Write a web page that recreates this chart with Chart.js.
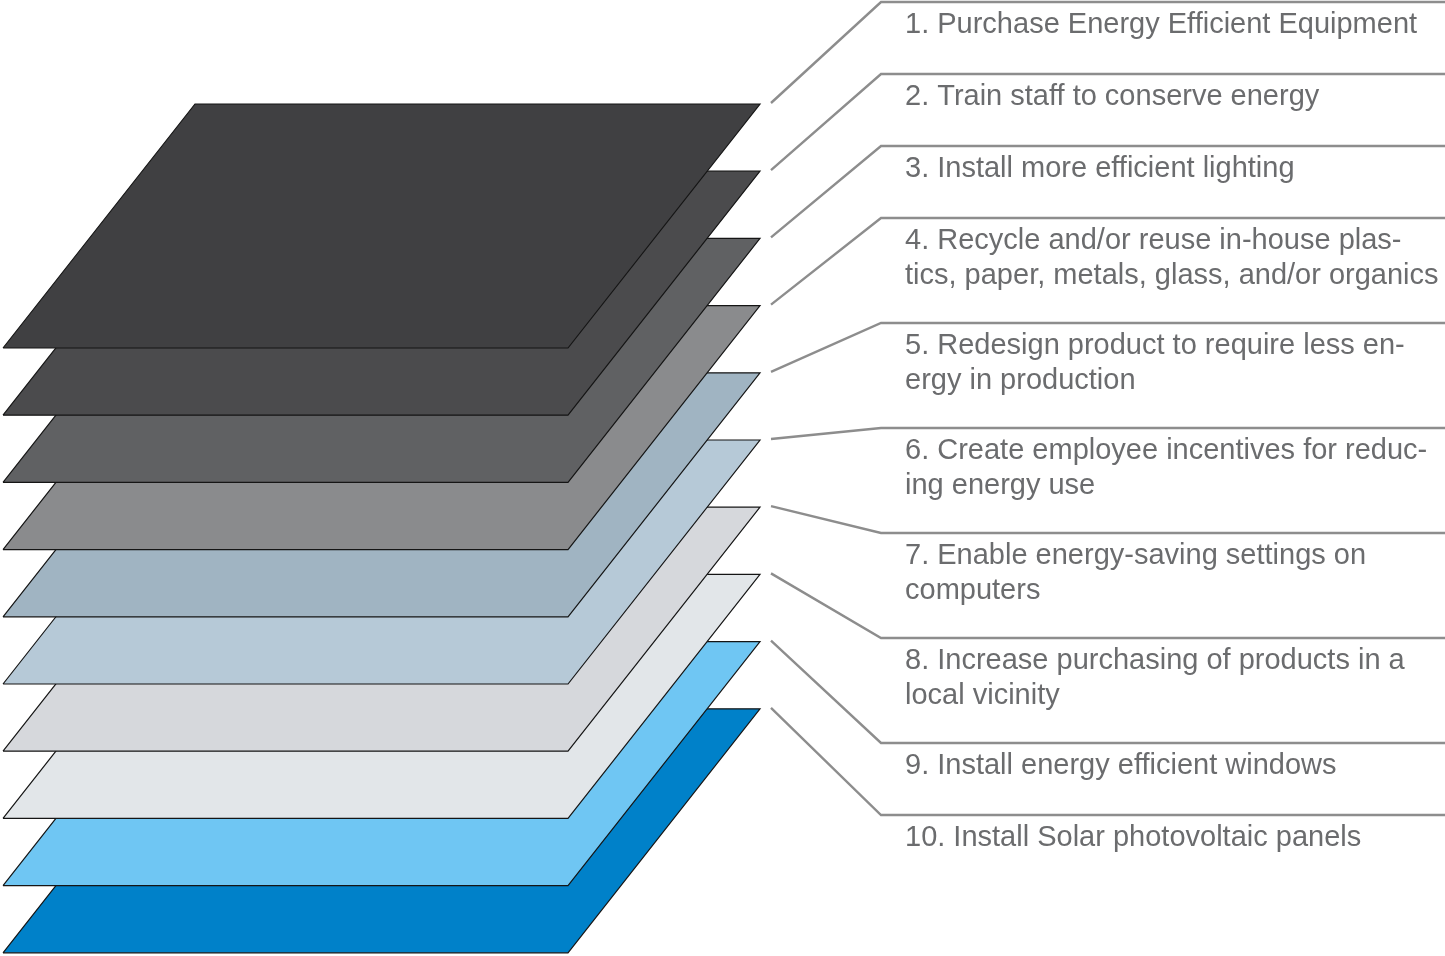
<!DOCTYPE html>
<html>
<head>
<meta charset="utf-8">
<script src="https://cdn.jsdelivr.net/npm/chart.js@4"></script>
<style>
  html, body { margin: 0; padding: 0; background: #fff; }
  canvas { display: block; }
</style>
</head>
<body>
<canvas id="layers" width="1445" height="956"></canvas>
<script>
// steps, top layer first
const steps = [
  ['1. Purchase Energy Efficient Equipment'],
  ['2. Train staff to conserve energy'],
  ['3. Install more efficient lighting'],
  ['4. Recycle and/or reuse in-house plas-', 'tics, paper, metals, glass, and/or organics'],
  ['5. Redesign product to require less en-', 'ergy in production'],
  ['6. Create employee incentives for reduc-', 'ing energy use'],
  ['7. Enable energy-saving settings on', 'computers'],
  ['8. Increase purchasing of products in a', 'local vicinity'],
  ['9. Install energy efficient windows'],
  ['10. Install Solar photovoltaic panels']
];

const layerColors = ['#404042', '#4b4b4d', '#606163', '#8a8b8d', '#a0b4c2',
                     '#b6c9d7', '#d6d8dc', '#e2e6e9', '#6fc6f3', '#0081c9'];

// layout (in canvas units, scales below map 1:1 to pixels)
const W = 1445, H = 956;
const top0 = 104, stepY = 67.2, depth = 244, skew = 192, left = 3, width = 565;
const leadX0 = 771, leadX1 = 881, textX = 905;
const lineH = 35, blockOne = 72, blockTwo = 105;

// y of each label's separator line, stacked from the text block heights
const sepY = [];
let y = 2;
steps.forEach(s => { sepY.push(y); y += s.length > 1 ? blockTwo : blockOne; });

const datasets = [];
steps.forEach((s, i) => {
  const t = top0 + i * stepY;
  datasets.push({
    label: 'layer' + (i + 1),
    data: [
      { x: left, y: t + depth },
      { x: left + width, y: t + depth },
      { x: left + width + skew, y: t },
      { x: left + skew, y: t },
      { x: left, y: t + depth }
    ],
    showLine: true,
    fill: 'shape',
    backgroundColor: layerColors[i],
    borderColor: '#151515',
    borderWidth: 1.2,
    borderJoinStyle: 'miter',
    pointRadius: 0,
    tension: 0,
    order: i + 20
  });
});
steps.forEach((s, i) => {
  const t = top0 + i * stepY - 1;
  datasets.push({
    label: 'leader' + (i + 1),
    data: [
      { x: leadX0, y: t },
      { x: leadX1, y: sepY[i] },
      { x: W, y: sepY[i] }
    ],
    showLine: true,
    fill: false,
    borderColor: '#8d8d8d',
    borderWidth: 2.4,
    pointRadius: 0,
    tension: 0,
    order: 1
  });
});

const stepText = {
  id: 'stepText',
  afterDatasetsDraw(chart) {
    const ctx = chart.ctx;
    const xs = chart.scales.x, ys = chart.scales.y;
    ctx.save();
    ctx.fillStyle = '#6b6c6e';
    ctx.font = '29px "Liberation Sans", Arial, sans-serif';
    ctx.textBaseline = 'alphabetic';
    steps.forEach((s, i) => {
      s.forEach((line, j) => {
        ctx.fillText(line, xs.getPixelForValue(textX), ys.getPixelForValue(sepY[i] + 31 + j * lineH));
      });
    });
    ctx.restore();
  }
};

new Chart(document.getElementById('layers'), {
  type: 'scatter',
  data: { datasets },
  options: {
    responsive: false,
    animation: false,
    layout: { padding: 0 },
    plugins: { legend: { display: false }, tooltip: { enabled: false } },
    scales: {
      x: { type: 'linear', min: 0, max: W, display: false },
      y: { type: 'linear', min: 0, max: H, reverse: true, display: false }
    }
  },
  plugins: [stepText]
});
</script>
</body>
</html>
